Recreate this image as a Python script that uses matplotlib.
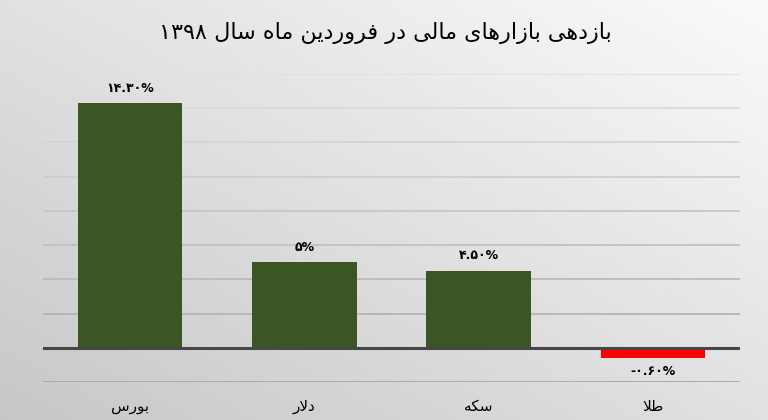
import numpy as np
import matplotlib
matplotlib.use("Agg")
from matplotlib import pyplot as plt

# data
categories = ['بورس', 'دلار', 'سکه', 'طلا']
returns_pct = [14.30, 5.0, 4.50, -0.60]
value_labels = ['۱۴.۳۰%', '۵%', '۴.۵۰%', '-۰.۶۰%']
title = 'بازدهی بازارهای مالی در فروردین ماه سال ۱۳۹۸'

# ---------------- tiny arabic/persian shaper (no libraqm in matplotlib) ----------------
# isolated, final, initial, medial
FORMS = {
    'ا': ('\uFE8D', '\uFE8E', None, None),
    'ب': ('\uFE8F', '\uFE90', '\uFE91', '\uFE92'),
    'د': ('\uFEA9', '\uFEAA', None, None),
    'ر': ('\uFEAD', '\uFEAE', None, None),
    'ز': ('\uFEAF', '\uFEB0', None, None),
    'س': ('\uFEB1', '\uFEB2', '\uFEB3', '\uFEB4'),
    'ط': ('\uFEC1', '\uFEC2', '\uFEC3', '\uFEC4'),
    'ف': ('\uFED1', '\uFED2', '\uFED3', '\uFED4'),
    'ل': ('\uFEDD', '\uFEDE', '\uFEDF', '\uFEE0'),
    'م': ('\uFEE1', '\uFEE2', '\uFEE3', '\uFEE4'),
    'ن': ('\uFEE5', '\uFEE6', '\uFEE7', '\uFEE8'),
    'ه': ('\uFEE9', '\uFEEA', '\uFEEB', '\uFEEC'),
    'و': ('\uFEED', '\uFEEE', None, None),
    'ی': ('\uFBFC', '\uFBFD', '\uFBFE', '\uFBFF'),
    'ک': ('\uFB8E', '\uFB8F', '\uFB90', '\uFB91'),
    'لا': ('\uFEFB', '\uFEFC', None, None),
}


def shape_word(word):
    if not any(c in FORMS for c in word):
        return word
    tokens = []
    i = 0
    while i < len(word):
        if word[i] == 'ل' and i + 1 < len(word) and word[i + 1] == 'ا':
            tokens.append('لا')
            i += 2
        else:
            tokens.append(word[i])
            i += 1
    out = []
    for k, t in enumerate(tokens):
        if t not in FORMS:
            out.append(t)
            continue
        prev = tokens[k - 1] if k > 0 else None
        nxt = tokens[k + 1] if k + 1 < len(tokens) else None
        j_prev = prev in FORMS and FORMS[prev][2] is not None
        j_next = FORMS[t][2] is not None and nxt in FORMS
        if j_prev and j_next:
            out.append(FORMS[t][3])
        elif j_prev:
            out.append(FORMS[t][1])
        elif j_next:
            out.append(FORMS[t][2])
        else:
            out.append(FORMS[t][0])
    return ''.join(reversed(out))


def rtl(text):
    return ' '.join(shape_word(w) for w in reversed(text.split(' ')))


plt.rcParams['font.family'] = ['DejaVu Sans']

fig = plt.figure(figsize=(7.68, 4.2), dpi=100)

# gradient background
bg = fig.add_axes([0, 0, 1, 1], zorder=-10)
yy, xx = np.mgrid[0:1:200j, 0:1:200j]
shade = 0.78 + 0.10 * xx + 0.10 * yy
bg.imshow(shade, cmap='gray', vmin=0, vmax=1, origin='lower',
          extent=[0, 1, 0, 1], aspect='auto')
bg.axis('off')

ax = fig.add_axes([0.056, 0.0905, 0.9075, 0.7333])
ax.set_facecolor('none')

x = np.arange(len(categories))
colors = ['#3b5523' if v >= 0 else '#ff0000' for v in returns_pct]
ax.bar(x, returns_pct, width=0.6, color=colors, zorder=3)

ax.set_xlim(-0.5, len(categories) - 0.5)
ax.set_ylim(-2, 16)
ax.set_yticks(np.arange(-2, 17, 2))
ax.set_yticklabels([])
ax.grid(axis='y', linewidth=1.3, zorder=0)
for line, t in zip(ax.yaxis.get_gridlines(), ax.get_yticks()):
    f = (t + 2) / 18
    g = 0.66 + 0.22 * f
    line.set_color((g, g, g))
ax.axhline(0, color='#474747', linewidth=2.2, zorder=4)

ax.set_xticks(x)
ax.set_xticklabels([rtl(c) for c in categories], fontsize=11)
ax.tick_params(axis='both', length=0)
ax.tick_params(axis='x', pad=12)
for s in ax.spines.values():
    s.set_visible(False)

for xi, v, lab in zip(x, returns_pct, value_labels):
    if v >= 0:
        ax.annotate(lab, (xi, v), xytext=(0, 6), textcoords='offset points',
                    ha='center', va='bottom', fontsize=9, fontweight='bold')
    else:
        ax.annotate(lab, (xi, v), xytext=(0, -5), textcoords='offset points',
                    ha='center', va='top', fontsize=9, fontweight='bold')

fig.text(0.502, 0.922, rtl(title), ha='center', va='center', fontsize=16)

fig.savefig("out.png", dpi=100)
